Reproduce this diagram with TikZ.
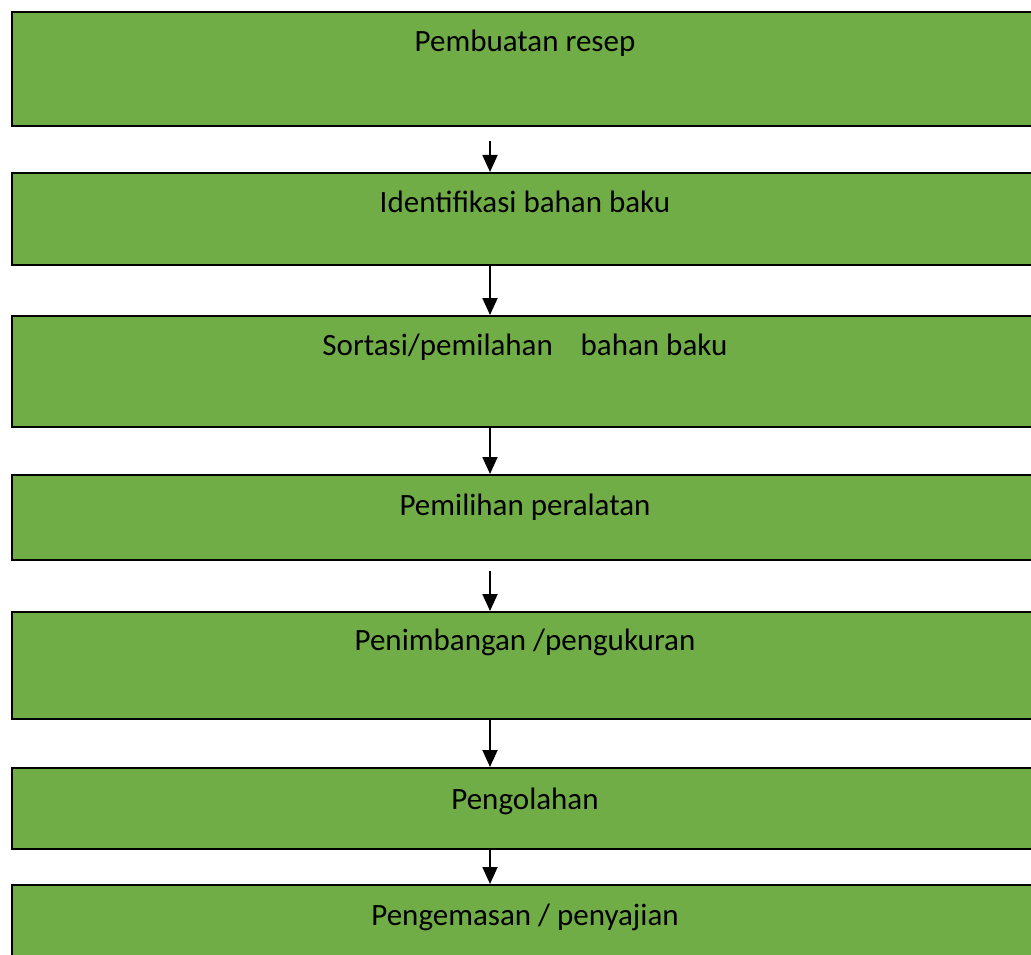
\documentclass[tikz,border=0pt]{standalone}
\usepackage{fontspec}
\setmainfont{Carlito}
\usetikzlibrary{arrows.meta}
\definecolor{boxgreen}{HTML}{70AD47}
\begin{document}
\begin{tikzpicture}[x=1pt,y=-1pt,
  stepbox/.style={draw=black, fill=boxgreen, line width=2pt, rectangle, inner sep=0pt, anchor=north west, minimum width=1030pt},
  lbl/.style={anchor=base, inner sep=0pt, font=\fontsize{31}{36}\selectfont},
  arr/.style={-{Triangle[width=15pt,length=17pt]}, line width=1.8pt, black}]
\useasboundingbox (0,0) rectangle (1031,955);
\clip (0,0) rectangle (1031,955);
\node[stepbox, minimum height=114pt] (b1) at (11,11) {};
\node[stepbox, minimum height=92pt] (b2) at (11,172) {};
\node[stepbox, minimum height=111pt] (b3) at (11,315) {};
\node[stepbox, minimum height=85pt] (b4) at (11,474) {};
\node[stepbox, minimum height=107pt] (b5) at (11,611) {};
\node[stepbox, minimum height=81pt] (b6) at (11,767) {};
\node[stepbox, minimum height=120pt] (b7) at (11,884) {};
\node[lbl] (t1) at (525,52) {Pembuatan resep};
\node[lbl] (t2) at (525,212) {Identifikasi bahan baku};
\node[lbl] (t3) at (525,355) {Sortasi/pemilahan\hspace{0.9em}bahan baku};
\node[lbl] (t4) at (525,515) {Pemilihan peralatan};
\node[lbl] (t5) at (525,650) {Penimbangan /pengukuran};
\node[lbl] (t6) at (525,809) {Pengolahan};
\node[lbl] (t7) at (525,925) {Pengemasan / penyajian};
\coordinate (ax) at (490,0);
\coordinate (s1) at (490,141);
\coordinate (s4) at (490,571);
\draw[arr] (s1) -- (b2.north -| ax);
\draw[arr] (b2.south -| ax) -- (b3.north -| ax);
\draw[arr] (b3.south -| ax) -- (b4.north -| ax);
\draw[arr] (s4) -- (b5.north -| ax);
\draw[arr] (b5.south -| ax) -- (b6.north -| ax);
\draw[arr] (b6.south -| ax) -- (b7.north -| ax);
\end{tikzpicture}
\end{document}
